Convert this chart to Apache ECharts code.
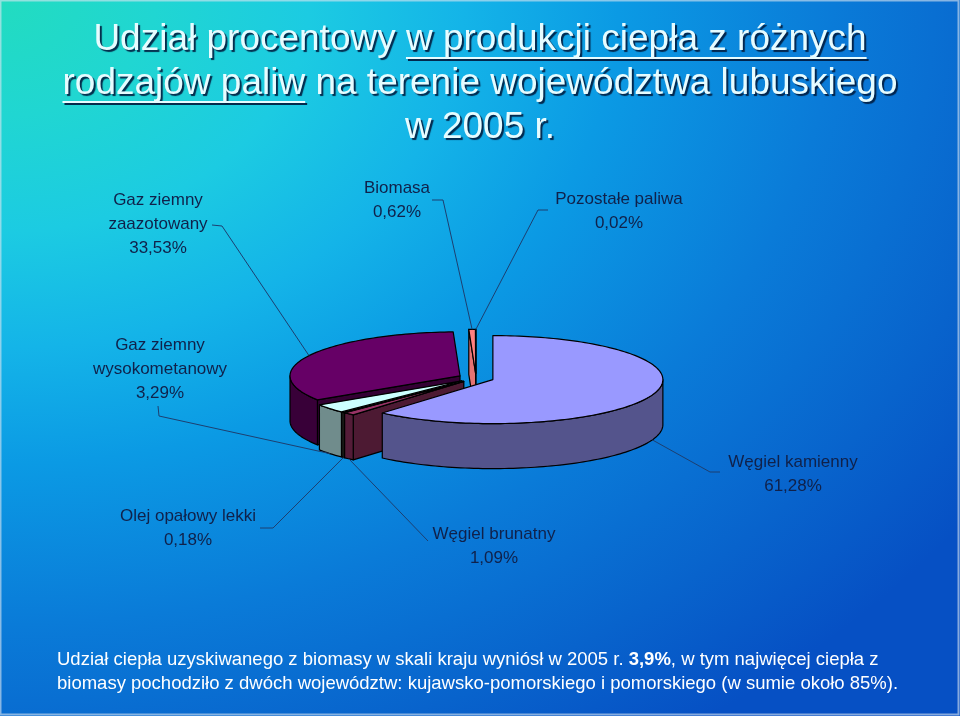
<!DOCTYPE html>
<html>
<head>
<meta charset="utf-8">
<script src="https://cdn.jsdelivr.net/npm/echarts@6/dist/echarts.min.js"></script>
<style>
  html, body { margin: 0; padding: 0; }
  #chart { width: 960px; height: 716px; }
</style>
</head>
<body>
<div id="chart"></div>
<script>
// dane
const fuelNames = ["Węgiel kamienny", "Węgiel brunatny", "Olej opałowy lekki", "Gaz ziemny wysokometanowy", "Gaz ziemny zaazotowany", "Biomasa", "Pozostałe paliwa"];
const fuelShares = [61.28, 1.09, 0.18, 3.29, 33.53, 0.62, 0.02];
const labelLines = [["Węgiel kamienny"], ["Węgiel brunatny"], ["Olej opałowy lekki"], ["Gaz ziemny", "wysokometanowy"], ["Gaz ziemny", "zaazotowany"], ["Biomasa"], ["Pozostałe paliwa"]];
const titleLines = ["Udział procentowy w produkcji ciepła z różnych", "rodzajów paliw na terenie województwa lubuskiego", "w 2005 r."];
const titleUnderlined = [["Udział procentowy ", "w produkcji ciepła z różnych"], ["", "rodzajów paliw"], null];

// kolory (Excel)
const topColors = ["#9999ff", "#993366", "#ffffcc", "#ccffff", "#660066", "#ff8080", "#0066cc"];

// położenie etykiet: środek tekstu + punkty linii odniesienia
const labelLayout = [
  { x: 793, y: 450, path: [[720, 472], [710, 472]] },
  { x: 494, y: 522, path: [[428, 541]] },
  { x: 188, y: 504, path: [[260, 528], [273, 528]] },
  { x: 160, y: 333, path: [[158, 406], [159, 416]] },
  { x: 158, y: 188, path: [[212, 225], [222, 226]] },
  { x: 397, y: 176, path: [[432, 200], [443, 200]] },
  { x: 619, y: 187, path: [[548, 210], [538, 210]] }
];

const CX = 476, CY = 378, RX = 170, RY = 44, DEPTH = 45, EXPLODE = 18;
const LABEL_FONT = '17px "Liberation Sans", Arial, sans-serif';
const TITLE_FONT = '37px "Liberation Sans", Arial, sans-serif';

const total = fuelShares.reduce((s, v) => s + v, 0);
const startShares = [];
let acc = 0;
fuelShares.forEach(v => { startShares.push(acc); acc += v; });

function shade(hex, f) {
  const n = parseInt(hex.slice(1), 16);
  const r = Math.round(((n >> 16) & 255) * f), g = Math.round(((n >> 8) & 255) * f), b = Math.round((n & 255) * f);
  return "rgb(" + r + "," + g + "," + b + ")";
}
const rad = d => d * Math.PI / 180;

function renderSlice(params, api) {
  const i = params.dataIndex;
  const v = api.value(0);
  const a0 = startShares[i] / total * 360;
  const a1 = a0 + v / total * 360;
  const m = (a0 + a1) / 2;
  const ox = EXPLODE * Math.sin(rad(m));
  const oy = -EXPLODE * RY / RX * Math.cos(rad(m));
  const P = (a, h) => [CX + ox + RX * Math.sin(rad(a)), CY + oy - RY * Math.cos(rad(a)) + h];
  const arc = (s, e, h) => {
    const n = Math.max(2, Math.ceil((e - s) / 1.5));
    const pts = [];
    for (let k = 0; k <= n; k++) pts.push(P(s + (e - s) * k / n, h));
    return pts;
  };
  const apex = [CX + ox, CY + oy];
  const apexB = [CX + ox, CY + oy + DEPTH];
  const col = topColors[i];
  const children = [];
  const edge = { stroke: "#000", lineWidth: 1.2, lineJoin: "round" };

  // zewnętrzna ściana (tylko przednia połowa)
  if (a0 < 270 && a1 > 90) {
    const s = Math.max(a0, 90), e = Math.min(a1, 270);
    const pts = arc(s, e, 0).concat(arc(s, e, DEPTH).reverse());
    children.push({ type: "polygon", shape: { points: pts }, z2: Math.round(P((s + e) / 2, 0)[1] * 10),
      style: Object.assign({ fill: shade(col, 0.55) }, edge) });
  }
  // ściany promieniowe
  const radial = (a, nx) => {
    const r = P(a, 0);
    const pts = [apex, r, P(a, DEPTH), apexB];
    const f = 0.5 + 0.4 * Math.max(0, -nx);
    children.push({ type: "polygon", shape: { points: pts }, z2: Math.round((apex[1] + r[1]) / 2 * 10),
      style: Object.assign({ fill: shade(col, f) }, edge) });
  };
  if (Math.sin(rad(a0)) < -1e-6) radial(a0, -Math.cos(rad(a0)));
  if (Math.sin(rad(a1)) > 1e-6) radial(a1, Math.cos(rad(a1)));
  // wierzch
  children.push({ type: "polygon", shape: { points: [apex].concat(arc(a0, a1, 0)) }, z2: 100000,
    style: Object.assign({ fill: col }, edge) });

  // etykieta
  const lay = labelLayout[i];
  const front = Math.cos(rad(m)) < 0;
  const rim = P(m, front ? DEPTH : 0);
  children.push({ type: "polyline", shape: { points: lay.path.concat([rim]) }, z2: 100001,
    style: { stroke: "#1d3f70", lineWidth: 1, fill: null } });
  const pct = v.toFixed(2).replace(".", ",") + "%";
  children.push({ type: "text", x: lay.x, y: lay.y, z2: 100002,
    style: { text: labelLines[i].concat([pct]).join("\n"), font: LABEL_FONT, fill: "#10214a",
      align: "center", verticalAlign: "top", lineHeight: 24 } });
  return { type: "group", children: children };
}

// tytuł + podkreślenia
const ctx = document.createElement("canvas").getContext("2d");
ctx.font = TITLE_FONT;
const titleY = [40, 84, 128];
const titleElems = [];
titleLines.forEach((t, k) => {
  titleElems.push({ type: "text", x: 480, y: titleY[k], z: 10,
    style: { text: t, font: TITLE_FONT, fill: "#e6fcff", align: "center", verticalAlign: "middle",
      textAlign: "center", textVerticalAlign: "middle",
      textShadowColor: "rgba(0,25,60,0.9)", textShadowOffsetX: 2, textShadowOffsetY: 2, textShadowBlur: 1 } });
  const u = titleUnderlined[k];
  if (u) {
    const full = ctx.measureText(t).width;
    const left = 480 - full / 2 + ctx.measureText(u[0]).width;
    const right = left + ctx.measureText(u[1]).width;
    const yy = titleY[k] + 18;
    titleElems.push({ type: "line", z: 9, shape: { x1: left + 2, y1: yy + 2, x2: right + 2, y2: yy + 2 },
      style: { stroke: "rgba(0,25,60,0.9)", lineWidth: 2 } });
    titleElems.push({ type: "line", z: 10, shape: { x1: left, y1: yy, x2: right, y2: yy },
      style: { stroke: "#e6fcff", lineWidth: 2 } });
  }
});

const chart = echarts.init(document.getElementById("chart"), null, { renderer: "canvas" });
chart.setOption({
  animation: false,
  graphic: [
    // tło: gradient eliptyczny od lewego górnego rogu
    { type: "rect", z: -10, scaleY: 0.75, shape: { x: 0, y: 0, width: 960, height: 955 },
      style: { fill: new echarts.graphic.RadialGradient(0, 0, 1190, [
        { offset: 0, color: "#22dcc0" },
        { offset: 0.13, color: "#20d6d2" },
        { offset: 0.26, color: "#1ccbe2" },
        { offset: 0.39, color: "#14b4e8" },
        { offset: 0.52, color: "#0b9ae4" },
        { offset: 0.7, color: "#0a7bd8" },
        { offset: 0.87, color: "#0863cc" },
        { offset: 1, color: "#0650c4" }
      ], true) } },
    { type: "rect", z: -9, shape: { x: 0.5, y: 0.5, width: 958, height: 714 },
      style: { fill: null, stroke: "rgba(220,230,240,0.6)", lineWidth: 2 } },
    ...titleElems,
    { type: "text", x: 57, y: 648, z: 10,
      style: {
        text: "{n|Udział ciepła uzyskiwanego z biomasy w skali kraju wyniósł w 2005 r. }{b|3,9%}{n|, w tym najwięcej ciepła z}\n{n|biomasy pochodziło z dwóch województw: kujawsko-pomorskiego i pomorskiego (w sumie około 85%).}",
        align: "left", verticalAlign: "top",
        rich: {
          n: { fill: "#ffffff", fontSize: 18.5, fontFamily: "Liberation Sans", lineHeight: 24 },
          b: { fill: "#ffffff", fontSize: 18.5, fontFamily: "Liberation Sans", fontWeight: "bold", lineHeight: 24 }
        }
      } }
  ],
  series: [{
    type: "custom",
    coordinateSystem: "none",
    silent: true,
    renderItem: renderSlice,
    data: fuelShares.map((v, i) => ({ name: fuelNames[i], value: [v] }))
  }]
});

window.addEventListener("resize", () => chart.resize());
</script>
</body>
</html>
